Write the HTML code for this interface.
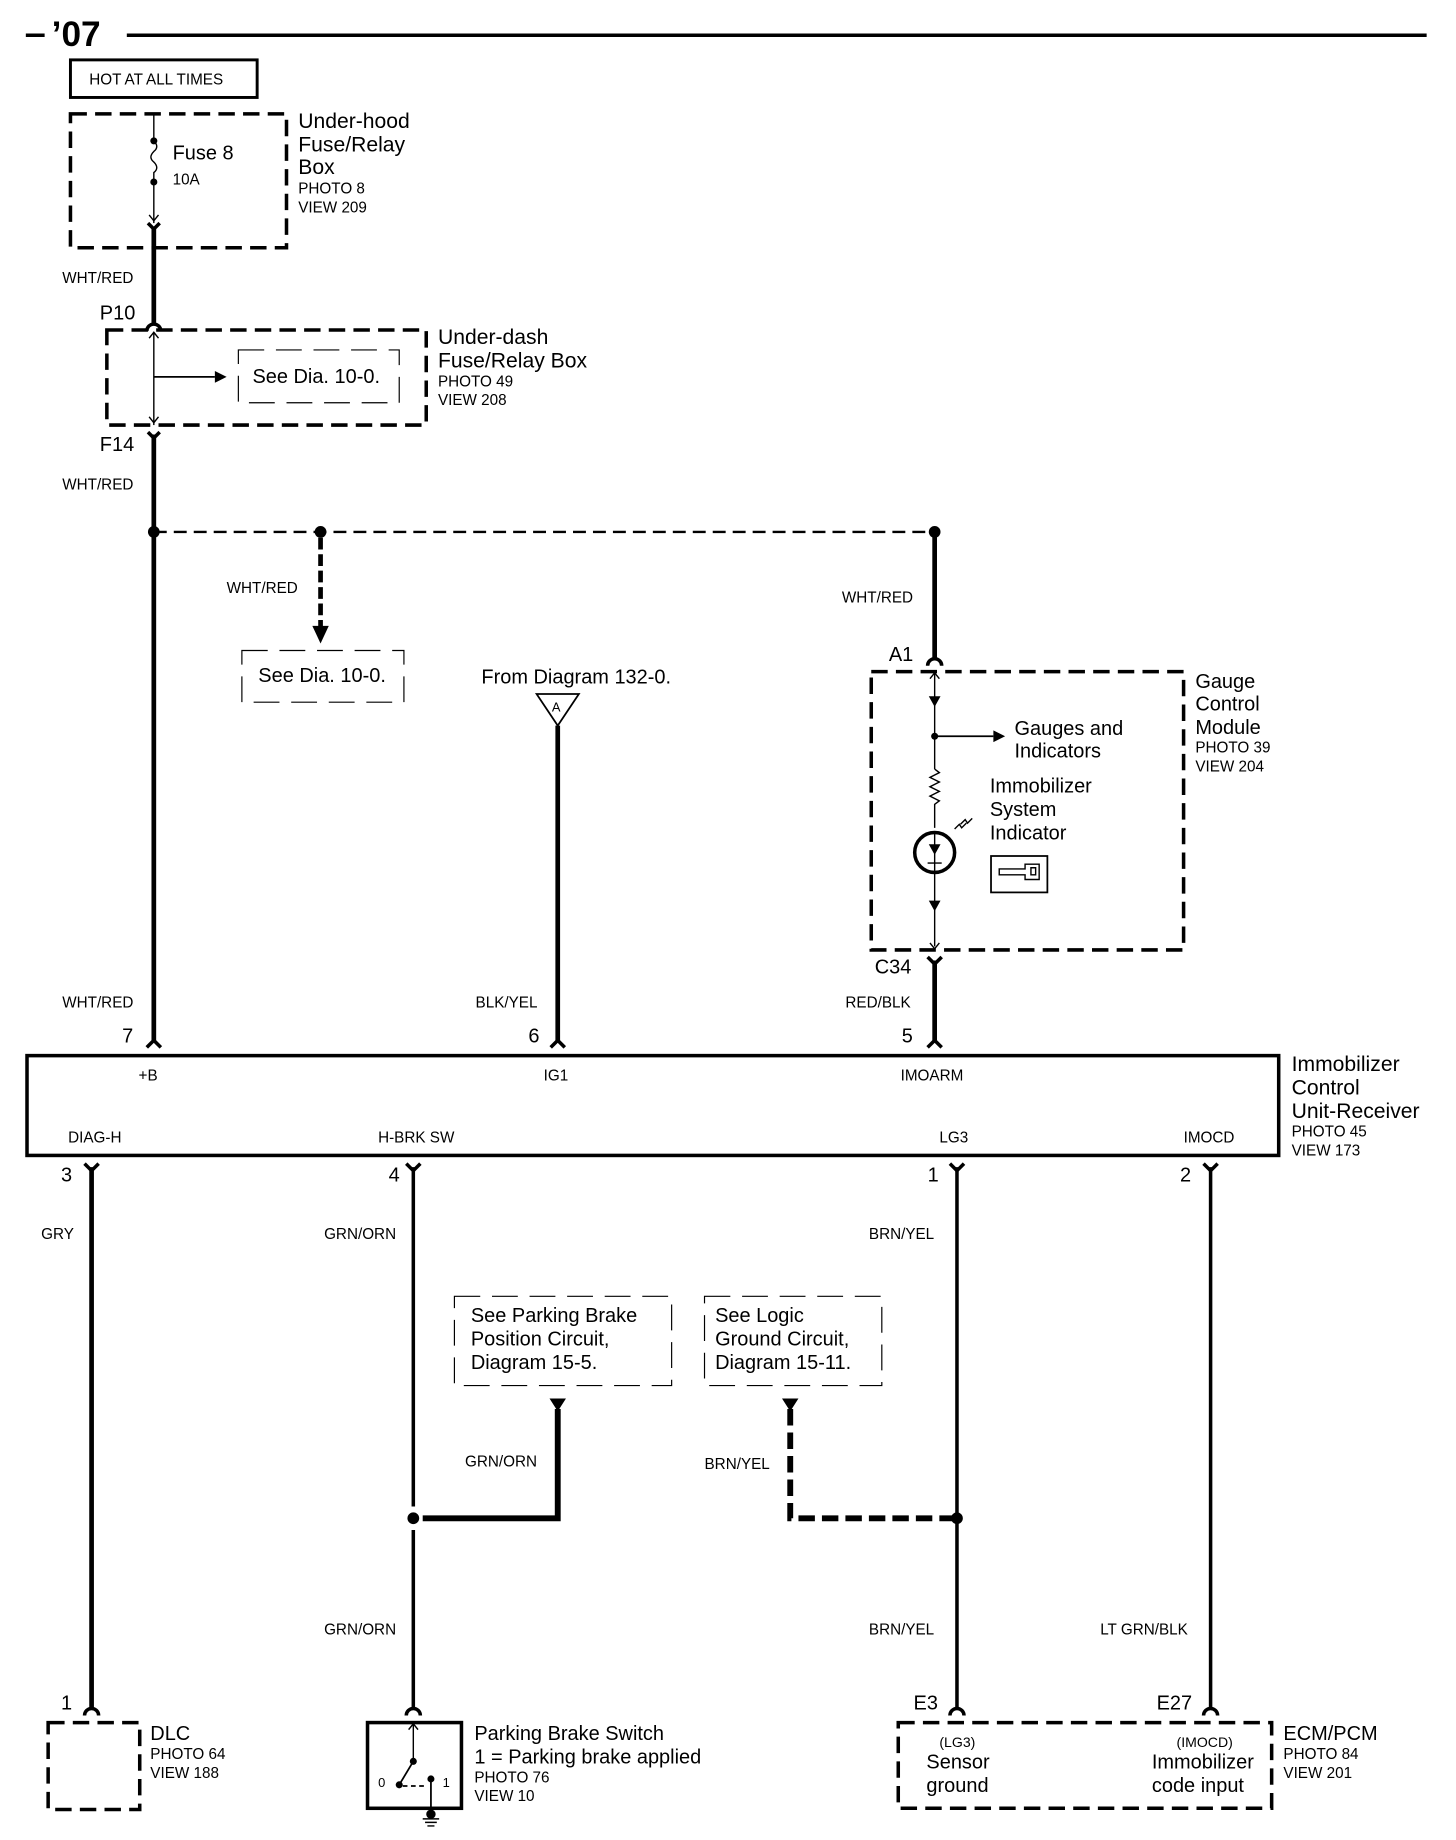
<!DOCTYPE html>
<html><head><meta charset="utf-8"><style>
html,body{margin:0;padding:0;background:#fff;}
svg{display:block;}
text{font-family:"Liberation Sans",sans-serif;fill:#000;}
.b{font-size:17px}.s{font-size:13px}
</style></head><body>
<svg width="1456" height="1840" viewBox="0 0 1240 1567" preserveAspectRatio="none" xmlns="http://www.w3.org/2000/svg">
<g fill="none" stroke="#000">
<!-- header -->
<line x1="22" y1="30" x2="38" y2="30" stroke-width="3"/>
<line x1="108" y1="30" x2="1215" y2="30" stroke-width="3"/>
<rect x="60" y="51" width="159" height="32" stroke-width="2.5"/>
<!-- under-hood -->
<rect x="60" y="97" width="184" height="114" stroke-width="3" stroke-dasharray="14,7"/>
<line x1="131" y1="97" x2="131" y2="120" stroke-width="1.2"/>
<path d="M131 120 q5 5 0 9 q-5 5 0 9 q5 5 0 9 l0 8" stroke-width="1.2"/>
<line x1="131" y1="155" x2="131" y2="190" stroke-width="1.2"/>
<path d="M127 183 l4 5 l4 -5" stroke-width="1.2"/>
<path d="M126 190 l5 5 l5 -5" stroke-width="3"/>
<line x1="131" y1="193" x2="131" y2="275" stroke-width="4"/>
<!-- under-dash -->
<path d="M125 282 a6 6 0 0 1 12 0" stroke-width="3"/>
<rect x="91" y="281" width="272" height="81" stroke-width="3" stroke-dasharray="14,7"/>
<line x1="131" y1="283" x2="131" y2="362" stroke-width="1.2"/>
<path d="M127 288 l4 -5 l4 5 M127 355 l4 5 l4 -5" stroke-width="1.2"/>
<line x1="131" y1="321" x2="183" y2="321" stroke-width="1.5"/>
<path d="M203 298 h137 v45 h-137 z" stroke-width="1" stroke-dasharray="22,10"/>
<path d="M126 368 l5 5 l5 -5" stroke-width="3"/>
<line x1="131" y1="370" x2="131" y2="886" stroke-width="4"/>
<!-- distribution -->
<line x1="131" y1="453" x2="796" y2="453" stroke-width="2" stroke-dasharray="11,6"/>
<line x1="273" y1="458" x2="273" y2="535" stroke-width="4" stroke-dasharray="10,4"/>
<path d="M206 554 h138 v44 h-138 z" stroke-width="1" stroke-dasharray="22,10"/>
<!-- IG1 -->
<path d="M457 591 h36 l-18 27 z" stroke-width="1.5"/>
<line x1="475" y1="618" x2="475" y2="886" stroke-width="4"/>
<!-- gauge -->
<line x1="796" y1="453" x2="796" y2="560" stroke-width="4"/>
<path d="M790 567 a6 6 0 0 1 12 0" stroke-width="3"/>
<rect x="742" y="572" width="266" height="237" stroke-width="3" stroke-dasharray="14,7"/>
<line x1="796" y1="573" x2="796" y2="655" stroke-width="1.2"/>
<path d="M792 578 l4 -5 l4 5" stroke-width="1.2"/>
<line x1="796" y1="627" x2="846" y2="627" stroke-width="1.5"/>
<path d="M796 655 l4 3 l-8 4 l8 4 l-8 4 l8 4 l-8 4 l8 4 l-4 3 l0 20" stroke-width="1.2"/>
<circle cx="796" cy="726" r="17" stroke-width="3"/>
<line x1="796" y1="709" x2="796" y2="806" stroke-width="1.2"/>
<line x1="790" y1="735" x2="802" y2="735" stroke-width="1.2"/>
<path d="M792 803 l4 5 l4 -5" stroke-width="1.2"/>
<path d="M813 706 l4 -4 l2 3 l4 -4 M818 702 l4 -4 l2 3 l4 -4" stroke-width="1.2"/>
<rect x="844" y="729" width="48" height="31" stroke-width="1.5"/>
<path d="M851 740 h22 v-4 h12 v13 h-12 v-4 h-22 z M878 739 h4 v6 h-4 z" stroke-width="1.2"/>
<path d="M790 815 l6 6 l6 -6" stroke-width="3"/>
<line x1="796" y1="818" x2="796" y2="886" stroke-width="4"/>
<!-- top pins -->
<path d="M125 892 l6 -6 l6 6 M469 892 l6 -6 l6 6 M790 892 l6 -6 l6 6" stroke-width="3"/>
<!-- main box -->
<rect x="23" y="899" width="1066" height="85" stroke-width="3"/>
<!-- bottom pins -->
<path d="M72 991 l6 6 l6 -6 M346 991 l6 6 l6 -6 M809 991 l6 6 l6 -6 M1025 991 l6 6 l6 -6" stroke-width="3"/>
<line x1="78" y1="994" x2="78" y2="1455" stroke-width="4"/>
<line x1="352" y1="994" x2="352" y2="1283" stroke-width="3"/>
<line x1="352" y1="1303" x2="352" y2="1455" stroke-width="3"/>
<line x1="815" y1="994" x2="815" y2="1455" stroke-width="3"/>
<line x1="1031" y1="994" x2="1031" y2="1455" stroke-width="3"/>
<!-- see boxes -->
<path d="M387 1104 h185 v76 h-185 z" stroke-width="1" stroke-dasharray="22,10"/>
<path d="M600 1104 h151 v76 h-151 z" stroke-width="1" stroke-dasharray="22,10"/>
<path d="M475 1200 v93 h-115" stroke-width="5"/>
<path d="M673 1200 v93 h142" stroke-width="5" stroke-dasharray="14,6"/>
<!-- bottom connectors -->
<path d="M72 1461 a6 6 0 0 1 12 0 M346 1461 a6 6 0 0 1 12 0 M809 1461 a6 6 0 0 1 12 0 M1025 1461 a6 6 0 0 1 12 0" stroke-width="3"/>
<rect x="41" y="1467" width="78" height="74" stroke-width="3" stroke-dasharray="14,7"/>
<rect x="313" y="1467" width="80" height="73" stroke-width="3"/>
<line x1="352" y1="1468" x2="352" y2="1500" stroke-width="1.2"/>
<path d="M348 1473 l4 -5 l4 5" stroke-width="1.2"/>
<line x1="352" y1="1500" x2="340" y2="1520" stroke-width="1.5"/>
<line x1="343" y1="1521" x2="362" y2="1521" stroke-width="1.5" stroke-dasharray="4,3"/>
<line x1="367" y1="1515" x2="367" y2="1548" stroke-width="1.5"/>
<path d="M360 1549 h14 M362 1552 h10 M364 1555 h6" stroke-width="1.2"/>
<rect x="765" y="1467" width="318" height="73" stroke-width="3" stroke-dasharray="14,7"/>
</g>
<g fill="#000">
<circle cx="131" cy="120" r="3"/><circle cx="131" cy="155" r="3"/>
<path d="M183 316 l10 5 l-10 5 z"/>
<circle cx="131" cy="453" r="5"/><circle cx="273" cy="453" r="5"/><circle cx="796" cy="453" r="5"/>
<path d="M266 533 h14 l-7 15 z"/>
<circle cx="796" cy="627" r="3"/>
<path d="M846 622 l10 5 l-10 5 z"/>
<path d="M791 593 h10 l-5 9 z M791 767 h10 l-5 9 z M791 719 h10 l-5 9 z"/>
<path d="M468 1191 h14 l-7 11 z M666 1191 h14 l-7 11 z"/>
<circle cx="352" cy="1293" r="5"/><circle cx="815" cy="1293" r="5"/>
<circle cx="352" cy="1500" r="3"/><circle cx="340" cy="1520" r="3"/><circle cx="367" cy="1515" r="3"/><circle cx="367" cy="1545" r="4"/>
</g>
<text x="44" y="39" style="font-size:30px;font-weight:bold">’07</text>
<text x="76" y="72" class="s">HOT AT ALL TIMES</text>
<text x="147" y="136" class="b">Fuse 8</text>
<text x="147" y="157" class="s">10A</text>
<text x="254" y="109" style="font-size:18px">Under-hood</text>
<text x="254" y="129" style="font-size:18px">Fuse/Relay</text>
<text x="254" y="148" style="font-size:18px">Box</text>
<text x="254" y="165" class="s">PHOTO 8</text>
<text x="254" y="181" class="s">VIEW 209</text>
<text x="53" y="241" class="s">WHT/RED</text>
<text x="85" y="272" class="b">P10</text>
<text x="215" y="326" class="b">See Dia. 10-0.</text>
<text x="373" y="293" style="font-size:18px">Under-dash</text>
<text x="373" y="313" style="font-size:18px">Fuse/Relay Box</text>
<text x="373" y="329" class="s">PHOTO 49</text>
<text x="373" y="345" class="s">VIEW 208</text>
<text x="85" y="384" class="b">F14</text>
<text x="53" y="417" class="s">WHT/RED</text>
<text x="193" y="505" class="s">WHT/RED</text>
<text x="220" y="581" class="b">See Dia. 10-0.</text>
<text x="410" y="582" class="b">From Diagram 132-0.</text>
<text x="470" y="606" style="font-size:11px">A</text>
<text x="717" y="513" class="s">WHT/RED</text>
<text x="757" y="563" class="b">A1</text>
<text x="864" y="626" class="b">Gauges and</text>
<text x="864" y="645" class="b">Indicators</text>
<text x="843" y="675" class="b">Immobilizer</text>
<text x="843" y="695" class="b">System</text>
<text x="843" y="715" class="b">Indicator</text>
<text x="1018" y="586" class="b">Gauge</text>
<text x="1018" y="605" class="b">Control</text>
<text x="1018" y="625" class="b">Module</text>
<text x="1018" y="641" class="s">PHOTO 39</text>
<text x="1018" y="657" class="s">VIEW 204</text>
<text x="745" y="829" class="b">C34</text>
<text x="53" y="858" class="s">WHT/RED</text>
<text x="405" y="858" class="s">BLK/YEL</text>
<text x="720" y="858" class="s">RED/BLK</text>
<text x="104" y="888" class="b">7</text>
<text x="450" y="888" class="b">6</text>
<text x="768" y="888" class="b">5</text>
<text x="118" y="920" class="s">+B</text>
<text x="463" y="920" class="s">IG1</text>
<text x="767" y="920" class="s">IMOARM</text>
<text x="58" y="973" class="s">DIAG-H</text>
<text x="322" y="973" class="s">H-BRK SW</text>
<text x="800" y="973" class="s">LG3</text>
<text x="1008" y="973" class="s">IMOCD</text>
<text x="1100" y="912" style="font-size:18px">Immobilizer</text>
<text x="1100" y="932" style="font-size:18px">Control</text>
<text x="1100" y="952" style="font-size:18px">Unit-Receiver</text>
<text x="1100" y="968" class="s">PHOTO 45</text>
<text x="1100" y="984" class="s">VIEW 173</text>
<text x="52" y="1006" class="b">3</text>
<text x="331" y="1006" class="b">4</text>
<text x="790" y="1006" class="b">1</text>
<text x="1005" y="1006" class="b">2</text>
<text x="35" y="1055" class="s">GRY</text>
<text x="276" y="1055" class="s">GRN/ORN</text>
<text x="740" y="1055" class="s">BRN/YEL</text>
<text x="401" y="1126" class="b">See Parking Brake</text>
<text x="401" y="1146" class="b">Position Circuit,</text>
<text x="401" y="1166" class="b">Diagram 15-5.</text>
<text x="609" y="1126" class="b">See Logic</text>
<text x="609" y="1146" class="b">Ground Circuit,</text>
<text x="609" y="1166" class="b">Diagram 15-11.</text>
<text x="396" y="1249" class="s">GRN/ORN</text>
<text x="600" y="1251" class="s">BRN/YEL</text>
<text x="276" y="1392" class="s">GRN/ORN</text>
<text x="740" y="1392" class="s">BRN/YEL</text>
<text x="937" y="1392" class="s">LT GRN/BLK</text>
<text x="52" y="1456" class="b">1</text>
<text x="778" y="1456" class="b">E3</text>
<text x="985" y="1456" class="b">E27</text>
<text x="128" y="1482" class="b">DLC</text>
<text x="128" y="1498" class="s">PHOTO 64</text>
<text x="128" y="1514" class="s">VIEW 188</text>
<text x="322" y="1522" style="font-size:11px">0</text>
<text x="377" y="1522" style="font-size:11px">1</text>
<text x="404" y="1482" class="b">Parking Brake Switch</text>
<text x="404" y="1502" class="b">1 =  Parking brake applied</text>
<text x="404" y="1518" class="s">PHOTO 76</text>
<text x="404" y="1534" class="s">VIEW 10</text>
<text x="800" y="1488" style="font-size:12px">(LG3)</text>
<text x="789" y="1506" class="b">Sensor</text>
<text x="789" y="1526" class="b">ground</text>
<text x="1002" y="1488" style="font-size:12px">(IMOCD)</text>
<text x="981" y="1506" class="b">Immobilizer</text>
<text x="981" y="1526" class="b">code input</text>
<text x="1093" y="1482" class="b">ECM/PCM</text>
<text x="1093" y="1498" class="s">PHOTO 84</text>
<text x="1093" y="1514" class="s">VIEW 201</text>
</svg>
</body></html>
